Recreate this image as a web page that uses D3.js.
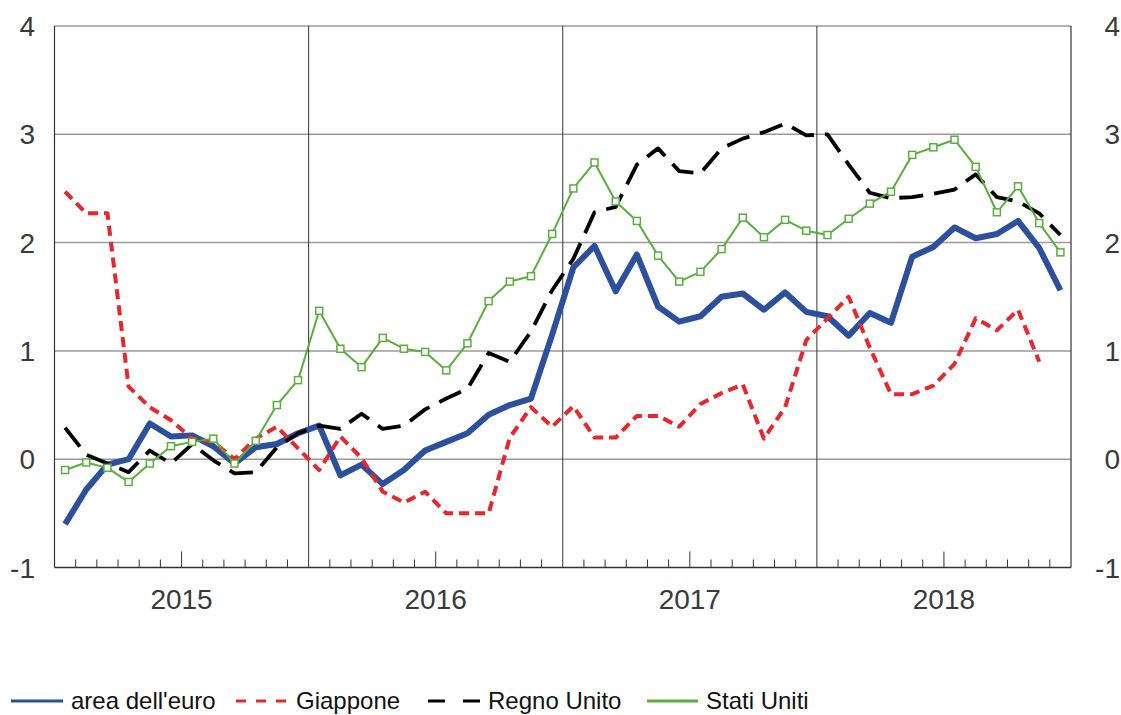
<!DOCTYPE html>
<html>
<head>
<meta charset="utf-8">
<script src="https://cdn.jsdelivr.net/npm/d3@7"></script>
<style>
  html, body { margin: 0; padding: 0; background: #fff; }
  svg { display: block; font-family: "Liberation Sans", Arial, sans-serif; }
</style>
</head>
<body>
<svg id="chart" width="1121" height="715"></svg>
<script>
// categories
const years = [2015, 2016, 2017, 2018];
const months = years.flatMap(y => d3.range(12).map(m => `${y}-${m + 1}`));

const yTicks = [-1, 0, 1, 2, 3, 4];

// series values (yoy %, monthly)
const euroArea = [
  -0.6, -0.28, -0.05, 0.0, 0.33, 0.21, 0.22, 0.12, -0.04, 0.11, 0.14, 0.24,
  0.31, -0.15, -0.05, -0.23, -0.1, 0.08, 0.16, 0.24, 0.41, 0.5, 0.56, 1.15,
  1.77, 1.97, 1.55, 1.89, 1.41, 1.27, 1.32, 1.5, 1.53, 1.38, 1.54, 1.36,
  1.32, 1.14, 1.35, 1.26, 1.87, 1.96, 2.14, 2.04, 2.08, 2.2, 1.95, 1.56
];
const japan = [
  2.47, 2.27, 2.27, 0.67, 0.48, 0.36, 0.19, 0.16, 0.0, 0.19, 0.3, 0.1,
  -0.1, 0.21, 0.01, -0.3, -0.4, -0.3, -0.5, -0.5, -0.5, 0.2, 0.48, 0.3,
  0.49, 0.2, 0.2, 0.4, 0.4, 0.3, 0.51, 0.61, 0.69, 0.19, 0.48, 1.1,
  1.3, 1.5, 1.03, 0.6, 0.6, 0.68, 0.88, 1.3, 1.19, 1.38, 0.9, null
];
const uk = [
  0.29, 0.04, -0.04, -0.12, 0.08, -0.04, 0.14, -0.01, -0.13, -0.12, 0.11, 0.24,
  0.31, 0.28, 0.42, 0.28, 0.31, 0.46, 0.56, 0.65, 0.98, 0.9, 1.18, 1.56,
  1.85, 2.28, 2.33, 2.72, 2.87, 2.66, 2.64, 2.87, 2.96, 3.02, 3.1, 2.99,
  3.0, 2.72, 2.46, 2.41, 2.42, 2.45, 2.49, 2.63, 2.42, 2.38, 2.27, 2.07
];
const usa = [
  -0.1, -0.03, -0.08, -0.21, -0.04, 0.12, 0.16, 0.19, -0.04, 0.17, 0.5, 0.73,
  1.37, 1.02, 0.85, 1.12, 1.02, 0.99, 0.82, 1.07, 1.46, 1.64, 1.69, 2.08,
  2.5, 2.74, 2.38, 2.2, 1.88, 1.64, 1.73, 1.94, 2.23, 2.05, 2.21, 2.11,
  2.07, 2.22, 2.36, 2.47, 2.81, 2.88, 2.95, 2.7, 2.28, 2.52, 2.18, 1.91
];

const series = [
  { name: "area dell'euro", values: euroArea, color: "#2c4f9e", width: 6, dash: null, legendDash: null },
  { name: "Giappone", values: japan, color: "#e8262b", width: 4, dash: "10,6", legendDash: "10,10" },
  { name: "Regno Unito", values: uk, color: "#000", width: 3.8, dash: "24,11", legendDash: "17,18" },
  { name: "Stati Uniti", values: usa, color: "#5aaf3c", width: 2, dash: null, legendDash: null, marker: true }
];

const svg = d3.select("#chart");
const plot = { left: 54.5, right: 1071, top: 26, bottom: 567.5 };

const x = d3.scaleBand().domain(months).range([plot.left, plot.right]).padding(0);
const y = d3.scaleLinear().domain([-1, 4]).range([plot.bottom, plot.top]);
const cx = d => x(d) + x.bandwidth() / 2;

// horizontal gridlines
svg.append("g")
  .selectAll("line")
  .data(yTicks.filter(t => t > -1))
  .join("line")
  .attr("x1", plot.left).attr("x2", plot.right)
  .attr("y1", d => y(d)).attr("y2", d => y(d))
  .attr("stroke", "#9a9a9a")
  .attr("stroke-width", 1.5);

// year separators
svg.append("g")
  .selectAll("line")
  .data(years.slice(1))
  .join("line")
  .attr("x1", d => x(`${d}-1`)).attr("x2", d => x(`${d}-1`))
  .attr("y1", plot.top).attr("y2", plot.bottom)
  .attr("stroke", "#333")
  .attr("stroke-width", 1);

// month ticks on the bottom axis
svg.append("g")
  .selectAll("line")
  .data(months.filter(m => !m.endsWith("-1")))
  .join("line")
  .attr("x1", d => x(d)).attr("x2", d => x(d))
  .attr("y1", plot.bottom)
  .attr("y2", d => d.endsWith("-7") ? plot.bottom - 16 : plot.bottom - 8)
  .attr("stroke", "#333")
  .attr("stroke-width", 1);

// frame: left, right, bottom
svg.append("line").attr("x1", plot.left).attr("x2", plot.left).attr("y1", plot.top).attr("y2", plot.bottom)
  .attr("stroke", "#333").attr("stroke-width", 1.2);
svg.append("line").attr("x1", plot.right).attr("x2", plot.right).attr("y1", plot.top).attr("y2", plot.bottom)
  .attr("stroke", "#333").attr("stroke-width", 1.2);
svg.append("line").attr("x1", plot.left).attr("x2", plot.right).attr("y1", plot.bottom).attr("y2", plot.bottom)
  .attr("stroke", "#333").attr("stroke-width", 1.5);

// y labels, both sides
[35, 1120].forEach(xp => {
  svg.append("g")
    .selectAll("text")
    .data(yTicks)
    .join("text")
    .attr("x", xp)
    .attr("y", d => y(d) + 10)
    .attr("text-anchor", "end")
    .attr("font-size", 28)
    .attr("fill", "#3a3a3a")
    .text(d => d);
});

// year labels
svg.append("g")
  .selectAll("text")
  .data(years)
  .join("text")
  .attr("x", d => (x(`${d}-1`) + x(`${d}-12`) + x.bandwidth()) / 2)
  .attr("y", 609)
  .attr("text-anchor", "middle")
  .attr("font-size", 28)
  .attr("fill", "#3a3a3a")
  .text(d => d);

// lines
const line = d3.line()
  .defined(d => d.v !== null)
  .x(d => cx(d.m))
  .y(d => y(d.v));

series.forEach(s => {
  const pts = months.map((m, i) => ({ m, v: s.values[i] }));
  svg.append("path")
    .datum(pts)
    .attr("fill", "none")
    .attr("stroke", s.color)
    .attr("stroke-width", s.width)
    .attr("stroke-linejoin", "round")
    .attr("stroke-dasharray", s.dash)
    .attr("d", line);

  if (s.marker) {
    svg.append("g")
      .selectAll("rect")
      .data(pts.filter(d => d.v !== null))
      .join("rect")
      .attr("x", d => cx(d.m) - 3.5)
      .attr("y", d => y(d.v) - 3.5)
      .attr("width", 7)
      .attr("height", 7)
      .attr("fill", "#fff")
      .attr("stroke", s.color)
      .attr("stroke-width", 1.5);
  }
});

// legend
const legendPos = [
  { x1: 11, x2: 63, tx: 71 },
  { x1: 236, x2: 289, tx: 296 },
  { x1: 428, x2: 480, tx: 488 },
  { x1: 647, x2: 698, tx: 706 }
];
const legend = svg.append("g");
series.forEach((s, i) => {
  const p = legendPos[i];
  legend.append("line")
    .attr("x1", p.x1).attr("x2", p.x2)
    .attr("y1", 701).attr("y2", 701)
    .attr("stroke", s.color)
    .attr("stroke-width", 3)
    .attr("stroke-dasharray", s.legendDash);
  legend.append("text")
    .attr("x", p.tx)
    .attr("y", 709)
    .attr("font-size", 24)
    .attr("fill", "#111")
    .text(s.name);
});
</script>
</body>
</html>
